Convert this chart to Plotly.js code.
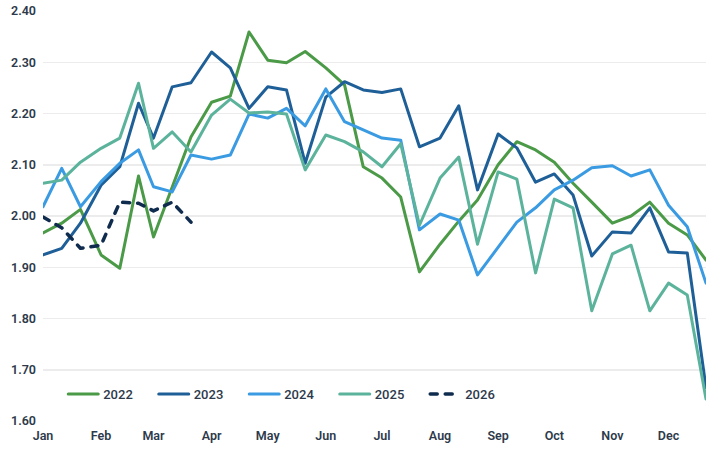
<!DOCTYPE html>
<html>
<head>
<meta charset="utf-8">
<script src="https://cdn.plot.ly/plotly-3.0.1.min.js"></script>
<style>
  html, body { margin: 0; padding: 0; background: #fff; }
  #chart { width: 726px; height: 454px; }
  .js-line, .legendlines path { stroke-linecap: round !important; stroke-linejoin: round !important; }
</style>
</head>
<body>
<div id="chart"></div>
<script>
// Month labels and the three reading days in each month
const months = ["Jan","Feb","Mar","Apr","May","Jun","Jul","Aug","Sep","Oct","Nov","Dec"];
const readingDays = [1, 11, 21];

// Series values (three readings per month)
const y2022 = [1.967, 1.986, 2.013, 1.924, 1.898, 2.078, 1.959, 2.055, 2.154, 2.222, 2.234, 2.359,
               2.304, 2.299, 2.321, 2.289, 2.256, 2.096, 2.074, 2.037, 1.891, 1.945, 1.990, 2.031,
               2.100, 2.145, 2.129, 2.105, 2.064, 2.027, 1.986, 2.000, 2.027, 1.986, 1.963, 1.914];
const y2023 = [1.924, 1.937, 1.986, 2.060, 2.096, 2.220, 2.152, 2.252, 2.260, 2.320, 2.289, 2.210,
               2.252, 2.246, 2.103, 2.232, 2.262, 2.246, 2.241, 2.248, 2.135, 2.152, 2.215, 2.051,
               2.160, 2.133, 2.066, 2.082, 2.041, 1.922, 1.969, 1.967, 2.016, 1.930, 1.928, 1.665];
const y2024 = [2.018, 2.093, 2.018, 2.067, 2.103, 2.129, 2.057, 2.047, 2.119, 2.111, 2.119, 2.199,
               2.191, 2.210, 2.176, 2.248, 2.184, 2.168, 2.152, 2.148, 1.973, 2.004, 1.992, 1.885,
               1.938, 1.988, 2.016, 2.051, 2.070, 2.094, 2.098, 2.078, 2.090, 2.021, 1.979, 1.869];
const y2025 = [2.064, 2.070, 2.105, 2.132, 2.152, 2.259, 2.132, 2.164, 2.125, 2.197, 2.228, 2.201,
               2.203, 2.199, 2.090, 2.158, 2.145, 2.125, 2.096, 2.141, 1.982, 2.074, 2.115, 1.945,
               2.086, 2.072, 1.889, 2.033, 2.016, 1.815, 1.926, 1.943, 1.815, 1.869, 1.846, 1.643];
const y2026 = [1.998, 1.977, 1.937, 1.943, 2.027, 2.025, 2.010, 2.027, 1.988];

const seriesNames = ["2022", "2023", "2024", "2025", "2026"];

// Build the dates on a common reference (non-leap) year
const dates = [];
months.forEach((m, mi) => {
  readingDays.forEach(d => {
    const mm = String(mi + 1).padStart(2, "0");
    const dd = String(d).padStart(2, "0");
    dates.push("2021-" + mm + "-" + dd);
  });
});

const colors = ["#4b9a47", "#1f5f98", "#3a9be2", "#5cb39b", "#0f2b4d"];
const values = [y2022, y2023, y2024, y2025, y2026];

const traces = values.map((v, i) => ({
  type: "scatter",
  mode: "lines",
  name: seriesNames[i],
  x: dates.slice(0, v.length),
  y: v,
  line: {
    color: colors[i],
    width: i === 4 ? 3.5 : 3,
    dash: i === 4 ? "7px,8px" : "solid"
  },
  hoverinfo: "skip"
}));

const tickFont = { family: "Roboto, 'Open Sans', sans-serif", size: 12.5, color: "#2d3a4b", weight: 600 };

const layout = {
  width: 726,
  height: 454,
  margin: { l: 43, r: 20, t: 11, b: 33 },
  paper_bgcolor: "#ffffff",
  plot_bgcolor: "#ffffff",
  showlegend: true,
  legend: {
    orientation: "h",
    x: 0.0305,
    xanchor: "left",
    y: 0.066,
    yanchor: "middle",
    bgcolor: "rgba(0,0,0,0)",
    font: { family: "Roboto, 'Open Sans', sans-serif", size: 13, color: "#2d3a4b", weight: 500 },
    entrywidth: 45.5,
    entrywidthmode: "pixels"
  },
  xaxis: {
    type: "date",
    range: [dates[0], dates[dates.length - 1]],
    tick0: "2021-01-01",
    dtick: "M1",
    tickformat: "%b",
    showgrid: false,
    zeroline: false,
    showline: false,
    ticks: "",
    ticklabelstandoff: 5,
    tickfont: tickFont,
    fixedrange: true
  },
  yaxis: {
    range: [1.6, 2.4],
    dtick: 0.1,
    tick0: 1.6,
    tickformat: ".2f",
    showgrid: true,
    gridcolor: "#ececec",
    gridwidth: 1.5,
    zeroline: false,
    showline: false,
    ticks: "",
    ticklabelstandoff: 6,
    tickfont: tickFont,
    fixedrange: true
  }
};

Plotly.newPlot("chart", traces, layout, { displayModeBar: false, staticPlot: true });
</script>
</body>
</html>
